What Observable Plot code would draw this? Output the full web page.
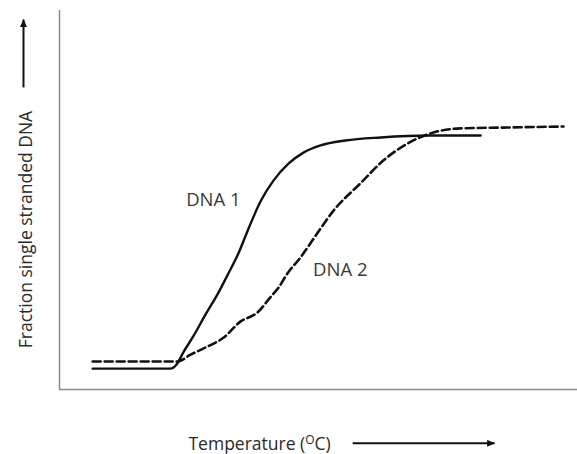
<!DOCTYPE html>
<html>
<head>
<meta charset="utf-8">
<script src="https://cdn.jsdelivr.net/npm/d3@7"></script>
<script src="https://cdn.jsdelivr.net/npm/@observablehq/plot@0.6"></script>
<style>
  html, body { margin: 0; padding: 0; background: #fff; }
  #chart { width: 577px; height: 454px; }
</style>
</head>
<body>
<div id="chart"></div>
<script>
// ---- Data (arbitrary temperature units 0–100, fraction 0–1) ----
const seriesNames = ["DNA 1", "DNA 2"];
const dna1Temp = [6.4, 21.4, 22.6, 23.9, 25.9, 28.2, 30.5, 32.6, 34.6, 36.5, 38.8, 41.3, 44.2, 47.1, 50.4, 55.2, 62.0, 71.6, 81.3];
const dna1Frac = [0.055, 0.055, 0.066, 0.098, 0.142, 0.198, 0.251, 0.306, 0.361, 0.425, 0.496, 0.551, 0.596, 0.625, 0.644, 0.657, 0.665, 0.670, 0.670];
const dna2Temp = [6.4, 22.8, 25.3, 28.2, 31.7, 34.9, 38.2, 40.7, 42.3, 44.0, 46.5, 50.0, 52.9, 58.1, 62.5, 67.2, 72.2, 77.4, 85.1, 97.3];
const dna2Frac = [0.074, 0.074, 0.092, 0.111, 0.137, 0.179, 0.203, 0.243, 0.269, 0.306, 0.348, 0.417, 0.472, 0.544, 0.604, 0.649, 0.678, 0.689, 0.691, 0.694];
const seriesLabelTemp = [29.7, 54.2];
const seriesLabelFrac = [0.499, 0.314];
const xTitle = "Temperature (OC)";
const yTitle = "Fraction single stranded DNA";

// ---- Build tables ----
const dna1 = dna1Temp.map((t, i) => ({t, f: dna1Frac[i]}));
const dna2 = dna2Temp.map((t, i) => ({t, f: dna2Frac[i]}));
const seriesLabels = seriesNames.map((name, i) => ({name, t: seriesLabelTemp[i], f: seriesLabelFrac[i]}));

// annotation layout (in scale units)
const axisArrows = [
  {x1: -6.95, y1: 0.797, x2: -6.95, y2: 0.976},
  {x1: 56.6, y1: -0.142, x2: 84.0, y2: -0.142}
];

const font = "'Open Sans', sans-serif";

const chart = Plot.plot({
  width: 577,
  height: 454,
  marginLeft: 59,
  marginRight: 0,
  marginTop: 10,
  marginBottom: 65,
  style: {fontFamily: font, background: "#fff", overflow: "visible"},
  x: {domain: [0, 100], axis: null},
  y: {domain: [0, 1], axis: null},
  marks: [
    Plot.ruleX([0], {stroke: "#8a8a8a", strokeWidth: 1.5}),
    Plot.ruleY([0], {stroke: "#8a8a8a", strokeWidth: 1.5}),
    Plot.line(dna2, {x: "t", y: "f", stroke: "#111", strokeWidth: 2.6, strokeDasharray: "8,4", curve: "monotone-x"}),
    Plot.line(dna1, {x: "t", y: "f", stroke: "#111", strokeWidth: 2.4, curve: "monotone-x"}),
    Plot.text(seriesLabels, {x: "t", y: "f", text: "name", fill: "#3a3a3a", fontSize: 18.5}),
    Plot.text([yTitle], {x: -6.3, y: 0.422, text: d => d, rotate: -90, fill: "#2a2a2a", fontSize: 17.5}),
    Plot.text([xTitle], {x: 24.9, y: -0.145, text: d => d, textAnchor: "start", fill: "#2a2a2a", fontSize: 17.5}),
    Plot.link(axisArrows, {x1: "x1", y1: "y1", x2: "x2", y2: "y2", stroke: "#111", strokeWidth: 2})
  ]
});

document.getElementById("chart").appendChild(chart);

const svg = d3.select(chart);

// superscript O in the temperature title
svg.selectAll("text").filter(function () { return this.textContent === xTitle; }).each(function () {
  const t = d3.select(this);
  t.text(null);
  t.append("tspan").text("Temperature (");
  t.append("tspan").attr("font-size", 12).attr("dy", -6).text("O");
  t.append("tspan").attr("dy", 6).text("C)");
});

// filled arrow heads
const defs = svg.insert("defs", ":first-child");
defs.append("marker")
  .attr("id", "ahead")
  .attr("viewBox", "0 0 8 7")
  .attr("refX", 7.5).attr("refY", 3.5)
  .attr("markerWidth", 8).attr("markerHeight", 7)
  .attr("markerUnits", "userSpaceOnUse")
  .attr("orient", "auto")
  .append("path").attr("d", "M0,0L8,3.5L0,7Z").attr("fill", "#111");
svg.selectAll('g[aria-label="link"] path').attr("marker-end", "url(#ahead)");
</script>
</body>
</html>
